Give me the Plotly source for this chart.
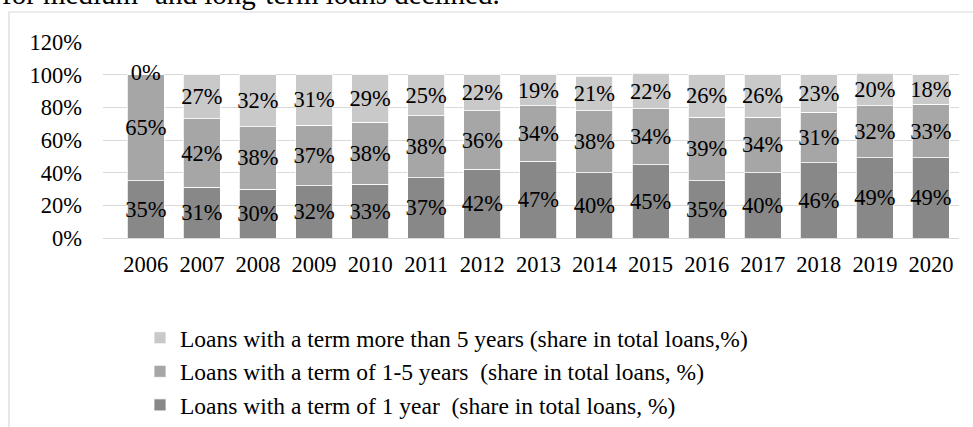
import plotly.graph_objects as go

# Loan structure by term, share in total loans (%)
years = ["2006", "2007", "2008", "2009", "2010", "2011", "2012", "2013",
         "2014", "2015", "2016", "2017", "2018", "2019", "2020"]
term_1_year = [35, 31, 30, 32, 33, 37, 42, 47, 40, 45, 35, 40, 46, 49, 49]
term_1_5_years = [65, 42, 38, 37, 38, 38, 36, 34, 38, 34, 39, 34, 31, 32, 33]
term_over_5_years = [0, 27, 32, 31, 29, 25, 22, 19, 21, 22, 26, 26, 23, 20, 18]

series_names = [
    "Loans with a term of 1 year\u00a0 (share in total loans, %)",
    "Loans with a term of 1-5 years\u00a0 (share in total loans, %)",
    "Loans with a term more than 5 years (share in total loans,%)",
]
series_values = [term_1_year, term_1_5_years, term_over_5_years]
series_colors = ["#888888", "#a6a6a6", "#c9c9c9"]

FONT = "Liberation Serif, Times New Roman, serif"
LABEL_SIZE = 22.5
W, H = 973, 427
ML, MR, MT, MB = 103, 14, 42, 189
PW, PH = W - ML - MR, H - MT - MB


def px_to_paper_x(px):
    return (px - ML) / PW


def px_to_paper_y(py):
    return (H - MB - py) / PH


fig = go.Figure()
for name, vals, color in zip(series_names, series_values, series_colors):
    fig.add_trace(go.Bar(
        x=years,
        y=[v / 100 for v in vals],
        name=name,
        marker=dict(color=color, line=dict(color="white", width=0.8)),
        text=[f"{v}%" for v in vals],
        textposition="inside",
        insidetextanchor="middle",
        constraintext="none",
        textangle=0,
        textfont=dict(family=FONT, size=LABEL_SIZE, color="#000000"),
        cliponaxis=False,
        hoverinfo="skip",
    ))

# Zero-height segments get no inside text, so label them at their stack position
zero_x, zero_y, zero_text = [], [], []
base = [0] * len(years)
for vals in series_values:
    for i, v in enumerate(vals):
        if v == 0:
            zero_x.append(years[i])
            zero_y.append((base[i] + v / 2) / 100)
            zero_text.append(f"{v}%")
        base[i] += v
fig.add_trace(go.Scatter(
    x=zero_x, y=zero_y, text=zero_text, mode="text",
    textposition="middle center",
    textfont=dict(family=FONT, size=LABEL_SIZE, color="#000000"),
    showlegend=False, hoverinfo="skip", cliponaxis=False,
))

# Outer chart frame (extends past the right and bottom edges)
fig.add_shape(
    type="rect", xref="paper", yref="paper",
    x0=px_to_paper_x(9), x1=px_to_paper_x(W + 10),
    y0=px_to_paper_y(H + 10), y1=px_to_paper_y(12),
    line=dict(color="#d9d9d9", width=1.2), fillcolor="rgba(0,0,0,0)",
    layer="below",
)

# Trailing line of the preceding paragraph
fig.add_annotation(
    text="for medium- and long-term loans declined.",
    xref="paper", yref="paper",
    x=px_to_paper_x(0), y=px_to_paper_y(12),
    xanchor="left", yanchor="bottom", showarrow=False,
    font=dict(family=FONT, size=29, color="#000000"),
)

fig.update_layout(
    width=W, height=H,
    margin=dict(l=ML, r=MR, t=MT, b=MB, autoexpand=False),
    paper_bgcolor="white", plot_bgcolor="white",
    barmode="stack", bargap=0.34,
    font=dict(family=FONT, size=LABEL_SIZE, color="#000000"),
    showlegend=True,
    legend=dict(
        traceorder="reversed",
        x=px_to_paper_x(140), y=px_to_paper_y(316),
        xanchor="left", yanchor="top",
        font=dict(family=FONT, size=23.5, color="#000000"),
        bgcolor="rgba(0,0,0,0)",
        itemclick=False, itemdoubleclick=False,
    ),
    xaxis=dict(
        type="category",
        showgrid=False, showline=False, ticks="",
        tickfont=dict(family=FONT, size=LABEL_SIZE),
        ticklabelstandoff=10,
        fixedrange=True,
    ),
    yaxis=dict(
        range=[0, 1.2], dtick=0.2, tickformat=".0%",
        showgrid=True, gridcolor="#d9d9d9", gridwidth=1.3,
        zeroline=True, zerolinecolor="#d9d9d9", zerolinewidth=1.3,
        showline=False, ticks="",
        tickfont=dict(family=FONT, size=LABEL_SIZE),
        ticklabelstandoff=20,
        fixedrange=True,
    ),
)

fig.write_html("out.html", config={"displayModeBar": False})
